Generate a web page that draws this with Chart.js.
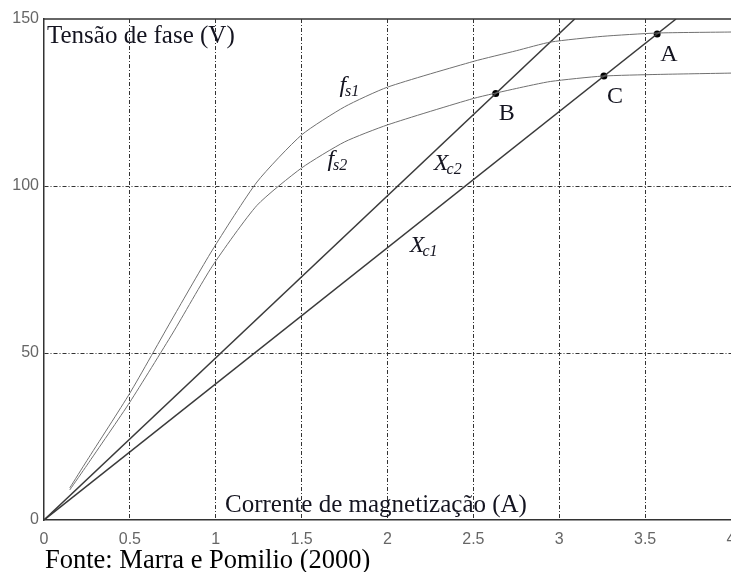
<!DOCTYPE html>
<html>
<head>
<meta charset="utf-8">
<script src="https://cdn.jsdelivr.net/npm/chart.js@4.4.1/dist/chart.umd.min.js"></script>
<style>
  html, body { margin: 0; padding: 0; background: #fff; overflow: hidden; }
  #box { width: 731px; height: 572px; position: relative; }
</style>
</head>
<body>
<div id="box"><canvas id="curvas" width="731" height="572"></canvas></div>
<script>
// Curvas de magnetização (tensão de fase x corrente) para duas velocidades
const fsX  = [0.15, 0.25, 0.5, 0.75, 0.98, 1.24, 1.5, 1.75, 2.0, 2.5, 2.75, 2.95, 3.25, 3.57, 4.0];
const fs1Y = [9.6, 17.8, 38.0, 60.5, 80.8, 101.2, 115.3, 123.7, 129.6, 137.3, 140.5, 143.1, 144.8, 145.8, 146.1];
const fs2Y = [9.0, 16.4, 35.3, 56.0, 76.0, 94.2, 105.4, 113.2, 118.3, 126.2, 129.2, 131.3, 132.9, 133.4, 133.8];

// Retas dos capacitores de excitação
const xc1X = [0, 3.68];
const xc1Y = [0, 150];
const xc2X = [0, 3.09];
const xc2Y = [0, 150];

// Pontos de operação
const pontoNomes = ['A', 'B', 'C'];
const pontoX = [3.57, 2.63, 3.26];
const pontoY = [145.5, 127.7, 132.9];

// Rótulos das curvas (posição em unidades do gráfico)
const rotulos = [
  { base: 'f', sub: 's1', x: 1.72, y: 128 },
  { base: 'f', sub: 's2', x: 1.65, y: 106 },
  { base: 'X', sub: 'c2', x: 2.27, y: 104.8 },
  { base: 'X', sub: 'c1', x: 2.13, y: 80.2 }
];

const xTicks = [0, 0.5, 1, 1.5, 2, 2.5, 3, 3.5, 4];
const yTicks = [0, 50, 100, 150];

const pares = (xs, ys) => xs.map((x, i) => ({ x: x, y: ys[i] }));

const serif = '"Liberation Serif", "Times New Roman", serif';
const sans = '"Liberation Sans", Arial, sans-serif';

const textos = {
  id: 'textos',
  afterDatasetsDraw(chart) {
    const { ctx, chartArea: a, scales } = chart;
    const sx = scales.x, sy = scales.y;
    ctx.save();

    // moldura superior
    ctx.strokeStyle = '#333';
    ctx.lineWidth = 1.5;
    ctx.beginPath();
    ctx.moveTo(a.left, a.top);
    ctx.lineTo(a.right, a.top);
    ctx.stroke();

    ctx.fillStyle = '#141420';
    ctx.textBaseline = 'alphabetic';
    ctx.textAlign = 'left';

    // títulos dos eixos dentro da área
    ctx.font = '25px ' + serif;
    ctx.fillText('Tensão de fase (V)', a.left + 3, 43);
    ctx.fillText('Corrente de magnetização (A)', 225, 512);

    // A, B, C ao lado dos pontos
    ctx.font = '24px ' + serif;
    pontoNomes.forEach((n, i) => {
      const px = sx.getPixelForValue(pontoX[i]);
      const py = sy.getPixelForValue(pontoY[i]);
      ctx.fillText(n, px + 3, py + 27);
    });

    // f_s1, f_s2, X_c1, X_c2
    rotulos.forEach(r => {
      const px = sx.getPixelForValue(r.x);
      const py = sy.getPixelForValue(r.y);
      ctx.font = 'italic 24px ' + serif;
      ctx.fillText(r.base, px, py);
      const w = ctx.measureText(r.base).width;
      ctx.font = 'italic 16px ' + serif;
      ctx.fillText(r.sub, px + w - (r.base === 'f' ? 1 : 2), py + 4);
    });

    // fonte
    ctx.fillStyle = '#000';
    ctx.font = '26.5px ' + serif;
    ctx.fillText('Fonte: Marra e Pomilio (2000)', 45, 568);

    ctx.restore();
  }
};

const gradeCor = (lim) => (c) => (lim.includes(c.tick.value) ? 'rgba(0,0,0,0)' : '#333');

new Chart(document.getElementById('curvas'), {
  type: 'scatter',
  data: {
    datasets: [
      { data: pares(fsX, fs1Y), showLine: true, borderColor: '#707070', borderWidth: 1, pointRadius: 0, tension: 0.2 },
      { data: pares(fsX, fs2Y), showLine: true, borderColor: '#707070', borderWidth: 1, pointRadius: 0, tension: 0.2 },
      { data: pares(xc1X, xc1Y), showLine: true, borderColor: '#3a3a3a', borderWidth: 1.5, pointRadius: 0 },
      { data: pares(xc2X, xc2Y), showLine: true, borderColor: '#3a3a3a', borderWidth: 1.5, pointRadius: 0 },
      { data: pares(pontoX, pontoY), showLine: false, pointRadius: 3.5, pointBackgroundColor: '#000', pointBorderColor: '#000', borderWidth: 0 }
    ]
  },
  options: {
    responsive: false,
    animation: false,
    layout: { autoPadding: false, padding: { top: 19, right: 0, left: 0, bottom: 0 } },
    plugins: { legend: { display: false }, tooltip: { enabled: false } },
    scales: {
      x: {
        type: 'linear', min: 0, max: 4,
        afterBuildTicks: s => { s.ticks = xTicks.map(v => ({ value: v })); },
        afterFit: s => { s.height = 52; s.paddingLeft = 0; s.paddingRight = 0; },
        grid: { color: gradeCor([0, 4]), lineWidth: 1, drawTicks: false },
        // dash aqui vale para as linhas de grade
        border: { display: true, color: '#333', width: 1.5, dash: [4, 2, 1, 2] },
        ticks: { padding: 10, color: '#666', font: { family: sans, size: 16 }, maxRotation: 0, callback: v => String(v) }
      },
      y: {
        type: 'linear', min: 0, max: 150,
        afterBuildTicks: s => { s.ticks = yTicks.map(v => ({ value: v })); },
        afterFit: s => { s.width = 44; s.paddingTop = 0; s.paddingBottom = 0; },
        grid: { color: gradeCor([0, 150]), lineWidth: 1, drawTicks: false },
        border: { display: true, color: '#333', width: 1.5, dash: [4, 2, 1, 2] },
        ticks: { padding: 5, color: '#666', font: { family: sans, size: 16 }, callback: v => String(v) }
      }
    }
  },
  plugins: [textos]
});
</script>
</body>
</html>
